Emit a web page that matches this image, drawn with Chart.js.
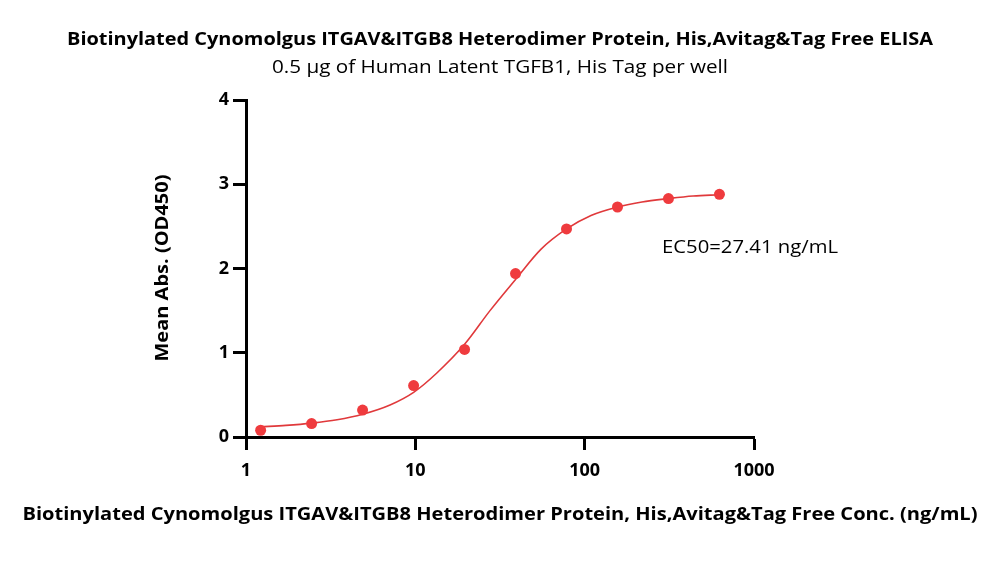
<!DOCTYPE html>
<html lang="en">
<head>
    <meta charset="UTF-8">
    <title>ITGAV&ITGB8 ELISA</title>
    <style>
        html, body {
            margin: 0;
            padding: 0;
            background: #fff;
        }
        .chart-box {
            width: 1000px;
            height: 581px;
        }
    </style>
    <script src="https://cdn.jsdelivr.net/npm/chart.js"></script>
</head>
<body>
    <div class="chart-box">
        <canvas id="elisaChart" width="1000" height="581"></canvas>
    </div>

    <script>
        // Measured points (ng/mL vs OD450)
        const concentrations = [1.22, 2.44, 4.88, 9.77, 19.53, 39.06, 78.13, 156.25, 312.5, 625];
        const meanAbs = [0.08, 0.16, 0.32, 0.61, 1.04, 1.94, 2.47, 2.73, 2.83, 2.88];

        // Fitted curve
        const fitConc = [1.22, 1.72, 2.44, 3.45, 4.88, 7.09, 9.77, 13.4, 19.53, 27.6, 39.06, 55.3, 78.13, 109, 156.25, 218, 312.5, 437, 625];
        const fitAbs = [0.12, 0.138, 0.165, 0.205, 0.27, 0.38, 0.53, 0.76, 1.10, 1.50, 1.87, 2.23, 2.47, 2.63, 2.73, 2.79, 2.83, 2.86, 2.875];

        const xTicks = [1, 10, 100, 1000];
        const yTicks = [0, 1, 2, 3, 4];

        const titleText = 'Biotinylated Cynomolgus ITGAV&ITGB8 Heterodimer Protein, His,Avitag&Tag Free ELISA';
        const subtitleText = '0.5 \u00b5g of Human Latent TGFB1, His Tag per well';
        const xTitle = 'Biotinylated Cynomolgus ITGAV&ITGB8 Heterodimer Protein, His,Avitag&Tag Free Conc. (ng/mL)';
        const yTitle = 'Mean Abs. (OD450)';
        const ec50Text = 'EC50=27.41 ng/mL';

        const FONT = '"Open Sans", "Liberation Sans", sans-serif';

        // draw text squeezed/stretched to a given width (the original uses a narrow font)
        function fitText(ctx, text, cx, cy, width) {
            const w = ctx.measureText(text).width;
            ctx.save();
            ctx.translate(cx, cy);
            ctx.scale(width / w, 1);
            ctx.fillText(text, 0, 0);
            ctx.restore();
        }

        // titles and the EC50 note
        const textPlugin = {
            id: 'textPlugin',
            afterDraw(chart) {
                const ctx = chart.ctx;
                ctx.save();
                ctx.fillStyle = '#000';
                ctx.textAlign = 'center';
                ctx.textBaseline = 'middle';

                ctx.font = 'bold 18px ' + FONT;
                fitText(ctx, titleText, 500, 40, 866);

                ctx.font = '18px ' + FONT;
                fitText(ctx, subtitleText, 500, 68, 456);

                ctx.font = 'bold 18px ' + FONT;
                fitText(ctx, xTitle, 500, 515, 955);

                ctx.save();
                ctx.translate(163, 268);
                ctx.rotate(-Math.PI / 2);
                fitText(ctx, yTitle, 0, 0, 187);
                ctx.restore();

                ctx.font = '18px ' + FONT;
                fitText(ctx, ec50Text, 750, 248, 176);
                ctx.restore();
            }
        };

        const ctx = document.getElementById('elisaChart').getContext('2d');
        const chart = new Chart(ctx, {
            type: 'scatter',
            data: {
                datasets: [
                    {
                        label: 'Mean Abs.',
                        data: concentrations.map((c, i) => ({ x: c, y: meanAbs[i] })),
                        showLine: false,
                        pointRadius: 5.5,
                        pointHoverRadius: 5.5,
                        pointBackgroundColor: '#ef3b3e',
                        pointBorderWidth: 0,
                        order: 0
                    },
                    {
                        label: 'Fit',
                        data: fitConc.map((c, i) => ({ x: c, y: fitAbs[i] })),
                        showLine: true,
                        borderColor: '#e0393b',
                        borderWidth: 1.6,
                        pointRadius: 0,
                        cubicInterpolationMode: 'monotone',
                        fill: false,
                        order: 1
                    }
                ]
            },
            plugins: [textPlugin],
            options: {
                responsive: false,
                animation: false,
                events: [],
                layout: {
                    padding: { left: 0, top: 100, right: 246, bottom: 0 }
                },
                plugins: {
                    legend: { display: false },
                    tooltip: { enabled: false }
                },
                scales: {
                    x: {
                        type: 'logarithmic',
                        min: 1,
                        max: 1000,
                        afterBuildTicks(scale) {
                            scale.ticks = xTicks.map(v => ({ value: v }));
                        },
                        afterFit(scale) {
                            scale.height = 581 - 437;
                        },
                        border: { display: true, color: '#000', width: 3 },
                        grid: {
                            drawOnChartArea: false,
                            drawTicks: true,
                            tickLength: 13,
                            tickWidth: 3,
                            tickColor: '#000'
                        },
                        ticks: {
                            autoSkip: false,
                            maxRotation: 0,
                            padding: 10,
                            color: '#000',
                            font: { family: FONT, size: 18, weight: 'bold' },
                            callback: (v) => String(v)
                        }
                    },
                    y: {
                        type: 'linear',
                        min: 0,
                        max: 4,
                        afterBuildTicks(scale) {
                            scale.ticks = yTicks.map(v => ({ value: v }));
                        },
                        afterFit(scale) {
                            scale.width = 246;
                        },
                        border: { display: true, color: '#000', width: 3 },
                        grid: {
                            drawOnChartArea: false,
                            drawTicks: true,
                            tickLength: 13,
                            tickWidth: 3,
                            tickColor: '#000'
                        },
                        ticks: {
                            padding: 4,
                            color: '#000',
                            font: { family: FONT, size: 18, weight: 'bold' }
                        }
                    }
                }
            }
        });
    </script>
</body>
</html>
